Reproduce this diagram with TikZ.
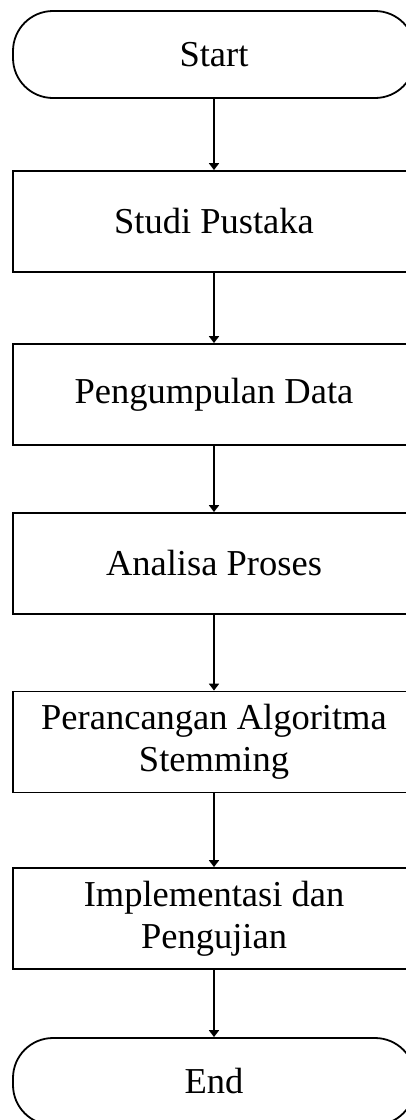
\documentclass[tikz,border=0pt]{standalone}
\usepackage{fontspec}
\setmainfont{Liberation Serif}
\usetikzlibrary{arrows.meta}

\begin{document}
\begin{tikzpicture}[x=1pt,y=-1pt,
  proses/.style={draw,line width=1.8pt,minimum width=402pt,minimum height=101pt,
    align=center,inner sep=0pt,font=\fontsize{36.5}{42}\selectfont},
  terminal/.style={proses,rounded corners=40pt,minimum height=87pt},
  panah/.style={line width=1.8pt,-{Triangle[length=7pt,width=10pt]}}]

\clip (0,0) rectangle (406,1120);

\node[terminal] (start) at (214,54.5) {Start};
\node[proses] (studi) at (214,221.5) {Studi Pustaka};
\node[proses] (data) at (214,394.5) {Pengumpulan Data};
\node[proses] (analisa) at (214,563.5) {Analisa Proses};
\node[proses] (rancang) at (214,742) {Perancangan Algoritma\\Stemming};
\node[proses] (uji) at (214,918.5) {Implementasi dan\\Pengujian};
\node[terminal] (end) at (214,1081.5) {End};

\draw[panah] (start) -- (studi);
\draw[panah] (studi) -- (data);
\draw[panah] (data) -- (analisa);
\draw[panah] (analisa) -- (rancang);
\draw[panah] (rancang) -- (uji);
\draw[panah] (uji) -- (end);

\end{tikzpicture}
\end{document}
